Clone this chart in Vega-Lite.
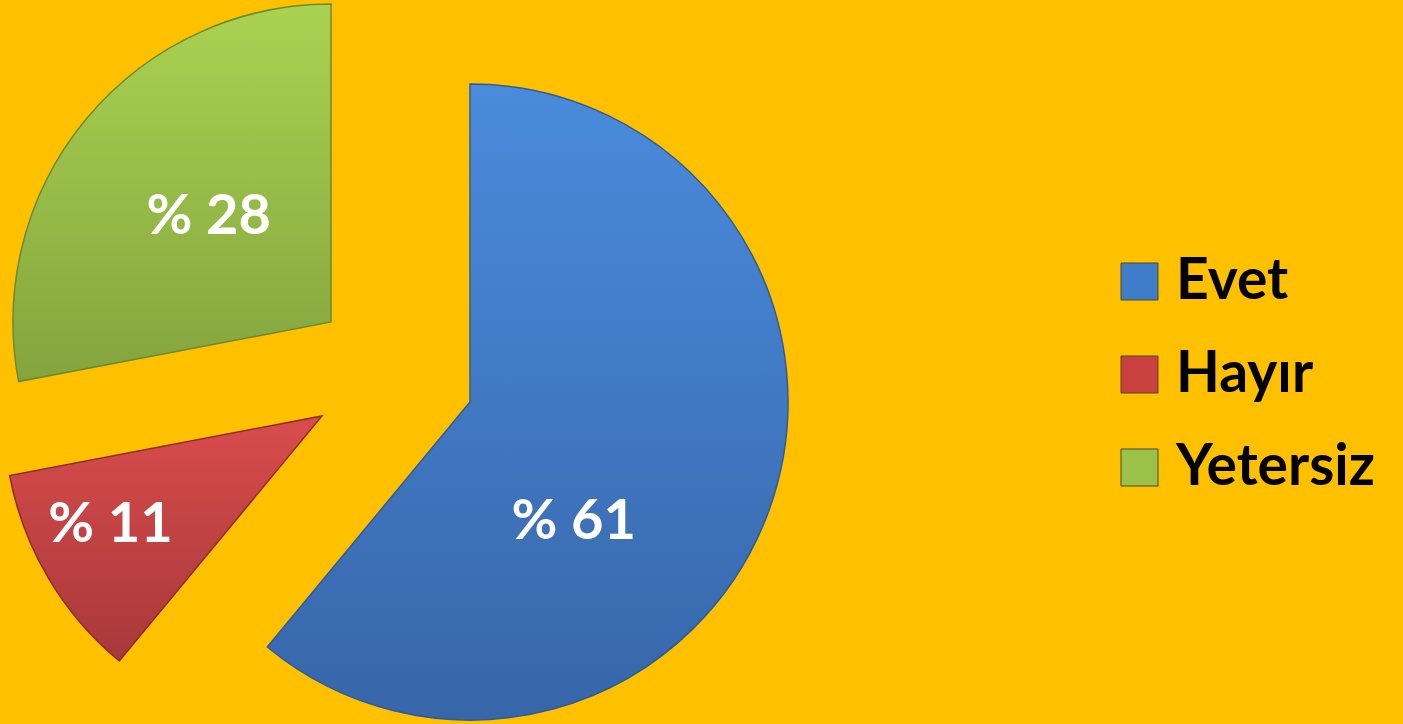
{
  "$schema": "https://vega.github.io/schema/vega-lite/v6.json",
  "width": 1403,
  "height": 724,
  "padding": 0,
  "autosize": {"type": "none"},
  "background": "#FFC000",
  "config": {"view": {"stroke": null}, "font": "Lato"},
  "data": {"values": [
    {"cat": "Evet", "value": 61, "label": "% 61", "order": 1},
    {"cat": "Hayır", "value": 11, "label": "% 11", "order": 2},
    {"cat": "Yetersiz", "value": 28, "label": "% 28", "order": 3}
  ]},
  "transform": [
    {"stack": "value", "groupby": [], "sort": [{"field": "order", "order": "ascending"}], "as": ["v0", "v1"]}
  ],
  "layer": [
    {
      "mark": {"type": "arc", "opacity": 0, "outerRadius": 5},
      "encoding": {
        "theta": {"field": "v0", "type": "quantitative", "scale": {"domain": [0, 100]}},
        "theta2": {"field": "v1"},
        "color": {
          "field": "cat", "type": "nominal",
          "scale": {"domain": ["Evet", "Hayır", "Yetersiz"], "range": ["#3F7CC9", "#C9403F", "#9BC14A"]},
          "legend": {
            "title": null, "orient": "none", "legendX": 1111, "legendY": 253,
            "symbolType": "square", "symbolSize": 1369, "symbolOpacity": 1,
            "symbolStrokeColor": "#4a4a30", "symbolStrokeWidth": 1,
            "labelFont": "Lato", "labelFontWeight": "bold", "labelFontSize": 57, "labelColor": "#000000",
            "labelOffset": 8, "rowPadding": 35, "labelLimit": 400
          }
        }
      }
    },
    {
      "transform": [{"filter": "datum.cat === 'Evet'"}],
      "mark": {"type": "arc", "outerRadius": 318, "xOffset": -231.5, "yOffset": 40,
        "fill": {"gradient": "linear", "x1": 0, "y1": 0, "x2": 0, "y2": 1,
          "stops": [{"offset": 0, "color": "#4A8BDC"}, {"offset": 1, "color": "#3766A9"}]},
        "stroke": "#2F5C99", "strokeWidth": 1.5},
      "encoding": {"theta": {"field": "v0", "type": "quantitative"}, "theta2": {"field": "v1"}}
    },
    {
      "transform": [{"filter": "datum.cat === 'Hayır'"}],
      "mark": {"type": "arc", "outerRadius": 318, "xOffset": -379.5, "yOffset": 54,
        "fill": {"gradient": "linear", "x1": 0, "y1": 0, "x2": 0, "y2": 1,
          "stops": [{"offset": 0, "color": "#D94C4C"}, {"offset": 1, "color": "#A8383A"}]},
        "stroke": "#8A2C2E", "strokeWidth": 1.5},
      "encoding": {"theta": {"field": "v0", "type": "quantitative"}, "theta2": {"field": "v1"}}
    },
    {
      "transform": [{"filter": "datum.cat === 'Yetersiz'"}],
      "mark": {"type": "arc", "outerRadius": 318, "xOffset": -370.5, "yOffset": -40,
        "fill": {"gradient": "linear", "x1": 0, "y1": 0, "x2": 0, "y2": 1,
          "stops": [{"offset": 0, "color": "#AAD251"}, {"offset": 1, "color": "#84A43E"}]},
        "stroke": "#6B8A32", "strokeWidth": 1.5},
      "encoding": {"theta": {"field": "v0", "type": "quantitative"}, "theta2": {"field": "v1"}}
    },
    {
      "mark": {"type": "text", "radius": 158, "dx": -276.5, "dy": 106, "font": "Lato", "fontWeight": "bold", "fontSize": 56, "color": "#FFFFFF", "align": "center", "baseline": "middle"},
      "encoding": {
        "theta": {"field": "value", "type": "quantitative", "stack": true},
        "order": {"field": "order"},
        "detail": {"field": "cat"},
        "text": {"condition": {"test": "datum.cat === 'Evet'", "field": "label"}, "value": ""}
      }
    },
    {
      "mark": {"type": "text", "radius": 240, "dx": -384.5, "dy": 41, "font": "Lato", "fontWeight": "bold", "fontSize": 56, "color": "#FFFFFF", "align": "center", "baseline": "middle"},
      "encoding": {
        "theta": {"field": "value", "type": "quantitative", "stack": true},
        "order": {"field": "order"},
        "detail": {"field": "cat"},
        "text": {"condition": {"test": "datum.cat === 'Hayır'", "field": "label"}, "value": ""}
      }
    },
    {
      "mark": {"type": "text", "radius": 160, "dx": -369.5, "dy": -43, "font": "Lato", "fontWeight": "bold", "fontSize": 56, "color": "#FFFFFF", "align": "center", "baseline": "middle"},
      "encoding": {
        "theta": {"field": "value", "type": "quantitative", "stack": true},
        "order": {"field": "order"},
        "detail": {"field": "cat"},
        "text": {"condition": {"test": "datum.cat === 'Yetersiz'", "field": "label"}, "value": ""}
      }
    }
  ]
}
